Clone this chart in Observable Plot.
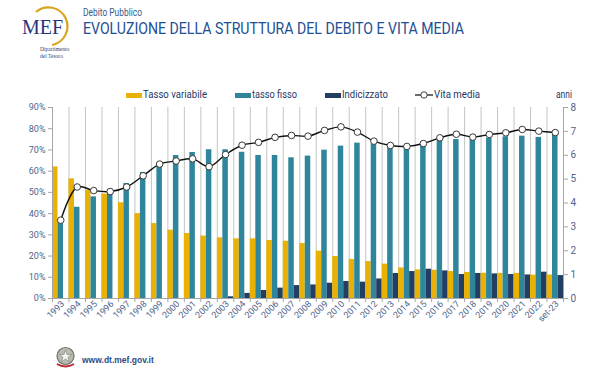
<!DOCTYPE html>
<html>
<head>
<meta charset="utf-8">
<script src="https://cdn.jsdelivr.net/npm/d3@7"></script>
<script src="https://cdn.jsdelivr.net/npm/@observablehq/plot@0.6"></script>
<style>
  html, body { margin: 0; padding: 0; background: #fff; }
  #page { position: relative; width: 597px; height: 376px; overflow: hidden; font-family: Roboto, Lato, sans-serif; }
  .abs { position: absolute; white-space: nowrap; }
  .sw { position: absolute; height: 5px; width: 16px; }
  #chart { position: absolute; left: 0; top: 100px; }
</style>
</head>
<body>
<div id="page">
  <svg class="abs" style="left:0;top:0" width="597" height="70">
    <path d="M 36 12 A 19 19 0 1 1 52 45" fill="none" stroke="#d9a520" stroke-width="2.2"/>
    <text x="22" y="34" font-family="Liberation Serif, DejaVu Serif, serif" font-size="20" fill="#28357a" textLength="41" lengthAdjust="spacingAndGlyphs">MEF</text>
    <text x="40" y="51" font-family="Liberation Serif, serif" font-size="5.5" fill="#2c3e7a">Dipartimento</text>
    <text x="40" y="57.5" font-family="Liberation Serif, serif" font-size="5.5" fill="#2c3e7a">del Tesoro</text>
    <text x="83" y="16" font-family="Roboto, sans-serif" font-size="11" fill="#3d5a86" textLength="59" lengthAdjust="spacingAndGlyphs">Debito Pubblico</text>
    <text x="83" y="33.5" font-family="Roboto, sans-serif" font-size="16.5" fill="#1d4f93" textLength="381" lengthAdjust="spacingAndGlyphs">EVOLUZIONE DELLA STRUTTURA DEL DEBITO E VITA MEDIA</text>
  </svg>

  <div class="sw" style="left:126px;top:92.5px;background:#e9b104"></div>
  <div class="sw" style="left:235px;top:92.5px;background:#2f859c"></div>
  <div class="sw" style="left:325px;top:92.5px;background:#233e63"></div>
  <svg class="abs" style="left:0;top:86px" width="597" height="16">
    <g font-family="Roboto, sans-serif" font-size="11.5" fill="#1f3864">
      <text x="143" y="12" textLength="64" lengthAdjust="spacingAndGlyphs">Tasso variabile</text>
      <text x="252" y="12" textLength="45" lengthAdjust="spacingAndGlyphs">tasso fisso</text>
      <text x="342" y="12" textLength="46" lengthAdjust="spacingAndGlyphs">Indicizzato</text>
      <text x="434" y="12" textLength="46" lengthAdjust="spacingAndGlyphs">Vita media</text>
      <text x="556" y="12" font-size="10.5" textLength="16" lengthAdjust="spacingAndGlyphs">anni</text>
    </g>
    <line x1="415" x2="433" y1="9" y2="9" stroke="#1a1a1a" stroke-width="1.3"/>
    <circle cx="424" cy="9" r="3.2" fill="#fff" stroke="#404040" stroke-width="1"/>
  </svg>

  <div id="chart"></div>

  <svg class="abs" style="left:54px;top:346px" width="26" height="24">
    <circle cx="11.5" cy="10" r="8.5" fill="#b7bcb2" stroke="#6d7467" stroke-width="1.2"/>
    <path d="M 11.5 4 L 13 8.5 L 17.5 8.5 L 14 11.3 L 15.3 15.8 L 11.5 13 L 7.7 15.8 L 9 11.3 L 5.5 8.5 L 10 8.5 Z" fill="#f4f4f0" stroke="#7a8074" stroke-width="0.6"/>
    <path d="M 3 18 Q 11.5 23 20 18" fill="none" stroke="#c0262d" stroke-width="2"/>
  </svg>
  <div class="abs" style="left:82px;top:355px;font-family:'Liberation Sans', Arial, sans-serif;font-size:8.5px;font-weight:bold;color:#2b4c86">www.dt.mef.gov.it</div>
</div>

<script>
// ---- data ----
const labels = ["1993","1994","1995","1996","1997","1998","1999","2000","2001","2002",
  "2003","2004","2005","2006","2007","2008","2009","2010","2011","2012",
  "2013","2014","2015","2016","2017","2018","2019","2020","2021","2022","set-23"];
const tassoVariabile = [62.0,56.4,51.0,49.2,45.1,40.0,35.3,32.2,30.6,29.4,
  28.6,28.1,28.1,27.3,27.0,25.9,22.3,19.8,18.4,17.4,
  16.2,14.4,13.5,13.3,12.7,12.3,11.9,11.8,11.8,11.0,11.1];
const tassoFisso = [37.2,43.0,47.9,49.5,54.2,59.4,63.6,67.4,68.8,70.1,
  70.1,68.9,67.4,67.4,66.3,67.1,69.9,71.8,73.2,72.9,
  71.4,71.4,73.0,74.6,74.9,74.9,75.5,76.2,76.5,75.9,77.4];
const indicizzato = [0,0,0,0,0,0,0,0,0,0,
  0.8,2.4,3.8,4.9,6.1,6.4,7.2,8.0,7.7,9.2,
  11.8,12.7,13.8,13.0,11.3,11.8,11.6,11.3,11.1,12.4,10.8];
const vitaMedia = [3.28,4.67,4.52,4.48,4.67,5.14,5.63,5.76,5.85,5.52,
  6.03,6.42,6.54,6.75,6.83,6.80,7.04,7.19,6.97,6.59,
  6.41,6.37,6.49,6.73,6.88,6.76,6.87,6.94,7.08,7.01,6.95];
const seriesNames = ["Tasso variabile","tasso fisso","Indicizzato"];
const seriesColors = ["#e9b104","#2f859c","#233e63"];
const pctTicks = [0,10,20,30,40,50,60,70,80,90];
const yearTicks = [0,1,2,3,4,5,6,7,8];

// ---- derived tables ----
const PCT_MAX = 90, YRS_MAX = 8;
const toPct = v => v * PCT_MAX / YRS_MAX;
const seriesVals = [tassoVariabile, tassoFisso, indicizzato];
const bars = [];
labels.forEach((lab, i) => {
  seriesVals.forEach((arr, k) => {
    bars.push({i, k, label: lab, series: seriesNames[k], value: arr[i]});
  });
});
const line = labels.map((lab, i) => ({i, label: lab, v: vitaMedia[i]}));
const n = labels.length;

const textColor = "#4f648c";
const gridColor = "#c4c4c4";
const axisColor = "#a6a6a6";

const chart = Plot.plot({
  width: 597,
  height: 232,
  marginTop: 7,
  marginBottom: 34,
  marginLeft: 52,
  marginRight: 34,
  style: {fontFamily: "Roboto, sans-serif", fontSize: "9px", background: "transparent", overflow: "visible"},
  x: {type: "linear", domain: [0, n], nice: false, axis: null},
  y: {domain: [0, PCT_MAX], nice: false, axis: null},
  color: {domain: seriesNames, range: seriesColors},
  marks: [
    Plot.ruleX(d3.range(1, n), {y1: 0, y2: PCT_MAX, stroke: gridColor, strokeWidth: 1}),
    Plot.rect(bars, {
      x1: d => d.i + d.k / 3,
      x2: d => d.i + (d.k + 1) / 3,
      y1: 0,
      y2: "value",
      fill: "series"
    }),
    Plot.ruleX([0, n], {y1: 0, y2: PCT_MAX, stroke: axisColor}),
    Plot.ruleY([0], {stroke: axisColor}),
    Plot.line(line, {x: d => d.i + 0.5, y: d => toPct(d.v), stroke: "#111", strokeWidth: 1.4, curve: "catmull-rom"}),
    Plot.dot(line, {x: d => d.i + 0.5, y: d => toPct(d.v), r: 3.3, fill: "#fff", stroke: "#3a3a3a", strokeWidth: 1}),
    Plot.axisY({anchor: "left", label: null, ticks: pctTicks, tickFormat: d => d + "%", tickSize: 4, tickPadding: 3, stroke: axisColor, fill: textColor}),
    Plot.axisY({anchor: "right", label: null, ticks: yearTicks.map(toPct), tickFormat: v => String(Math.round(v * YRS_MAX / PCT_MAX)), tickSize: 4, tickPadding: 3, stroke: axisColor, fill: textColor, fontSize: 10}),
    Plot.axisX({label: null, ticks: d3.range(0, n + 1), tickFormat: () => "", tickSize: 4, stroke: axisColor}),
    Plot.axisX({label: null, ticks: d3.range(0, n).map(i => i + 0.5), tickFormat: v => labels[Math.floor(v)], tickSize: 0, tickPadding: 4, tickRotate: -45, dx: 2, fill: textColor})
  ]
});
document.getElementById("chart").appendChild(chart);
</script>
</body>
</html>
